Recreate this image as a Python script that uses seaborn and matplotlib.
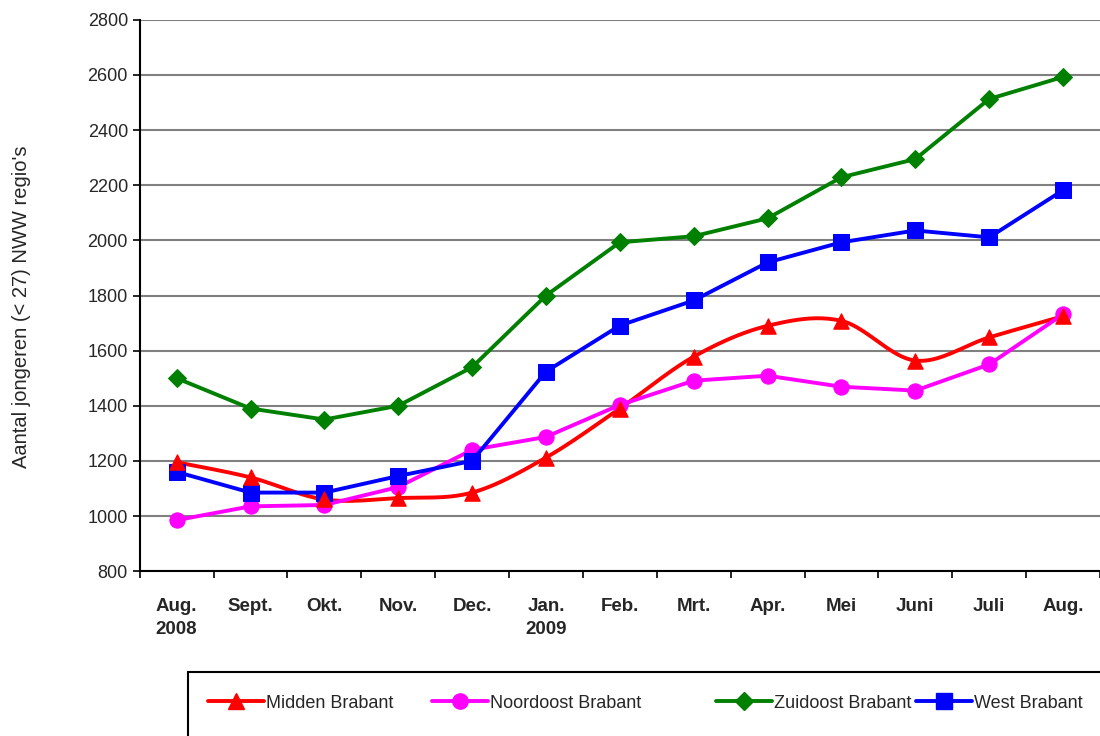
import numpy as np
import pandas as pd
import matplotlib
matplotlib.use("Agg")
import matplotlib.pyplot as plt
from matplotlib.lines import Line2D
from matplotlib.patches import Rectangle
import seaborn as sns

# --- Data ---
months = ["Aug.\n2008", "Sept.", "Okt.", "Nov.", "Dec.", "Jan.\n2009", "Feb.",
          "Mrt.", "Apr.", "Mei", "Juni", "Juli", "Aug."]
midden = [1195, 1140, 1060, 1065, 1085, 1212, 1390, 1578, 1690, 1708, 1564, 1648, 1725]
noordoost = [985, 1035, 1040, 1105, 1240, 1287, 1403, 1491, 1509, 1469, 1455, 1550, 1732]
zuidoost = [1500, 1390, 1350, 1400, 1540, 1800, 1993, 2015, 2080, 2229, 2295, 2513, 2593]
west = [1160, 1085, 1085, 1145, 1200, 1524, 1691, 1782, 1920, 1993, 2036, 2011, 2182]

series_names = ["Midden Brabant", "Noordoost Brabant", "Zuidoost Brabant", "West Brabant"]
colors = ["#ff0000", "#ff00ff", "#008000", "#0000ff"]
markers = ["^", "o", "D", "s"]
msizes = [11, 11, 9, 11]
legend_x = [208, 432, 716, 916]  # pixel position of each legend entry


def smooth_curve(x, y, n=24):
    """Excel-style smoothed line (Catmull-Rom Bezier) through the data points."""
    x = np.asarray(x, float)
    y = np.asarray(y, float)
    px = np.concatenate([[x[0]], x, [x[-1]]])
    py = np.concatenate([[y[0]], y, [y[-1]]])
    xs, ys = [], []
    t = np.linspace(0, 1, n)
    for i in range(1, len(px) - 2):
        p0 = np.array([px[i], py[i]])
        p3 = np.array([px[i + 1], py[i + 1]])
        c1 = p0 + (np.array([px[i + 1], py[i + 1]]) - np.array([px[i - 1], py[i - 1]])) / 6
        c2 = p3 - (np.array([px[i + 2], py[i + 2]]) - np.array([px[i], py[i]])) / 6
        b = ((1 - t)[:, None] ** 3 * p0 + 3 * ((1 - t) ** 2 * t)[:, None] * c1
             + 3 * ((1 - t) * t ** 2)[:, None] * c2 + (t ** 3)[:, None] * p3)
        xs.extend(b[:, 0])
        ys.extend(b[:, 1])
    return np.array(xs), np.array(ys)


sns.set_theme(style="white")
plt.rcParams["font.family"] = ["Liberation Sans", "DejaVu Sans"]

fig = plt.figure(figsize=(11, 7.36), dpi=100)
ax = fig.add_axes([0.127, 0.224, 0.873, 0.749])

x = np.arange(len(months))
df = pd.DataFrame({"x": np.tile(x, 3),
                   "value": noordoost + zuidoost + west,
                   "regio": np.repeat(series_names[1:], len(months))})

lw = 2.8

# Midden Brabant: smoothed line
sx, sy = smooth_curve(x, midden)
ax.plot(sx, sy, color=colors[0], lw=lw, zorder=3, solid_capstyle="round")
sns.scatterplot(x=x, y=midden, marker="^", s=msizes[0] ** 2, color=colors[0],
                edgecolor=colors[0], ax=ax, zorder=4, legend=False)

for name, c, m, ms in zip(series_names[1:], colors[1:], markers[1:], msizes[1:]):
    sns.lineplot(data=df[df["regio"] == name], x="x", y="value", color=c,
                 marker=m, markersize=ms, markeredgecolor=c, lw=lw,
                 ax=ax, zorder=3, legend=False)

ax.set_xlim(-0.5, 12.5)
ax.set_ylim(800, 2800)
ax.set_yticks(range(800, 2801, 200))
ax.yaxis.grid(True, color="#808080", lw=1.5)
ax.set_axisbelow(True)

# category boundaries get tick marks, labels sit in between
ax.set_xticks(np.arange(-0.5, 12.6, 1))
ax.set_xticklabels([])
ax.set_xticks(x, minor=True)
ax.set_xticklabels(months, minor=True, fontweight="bold", fontsize=13.5)
ax.tick_params(axis="x", which="minor", length=0, pad=19)
ax.tick_params(axis="x", which="major", length=5, width=1.2, color="black", direction="out", bottom=True)
ax.tick_params(axis="y", length=5, width=1.2, color="black", direction="out", left=True, labelsize=13)
for lbl in ax.get_xticklabels(minor=True):
    lbl.set_verticalalignment("top")
    lbl.set_linespacing(1.5)

for side in ["top", "right"]:
    ax.spines[side].set_visible(False)
for side in ["left", "bottom"]:
    ax.spines[side].set_color("black")
    ax.spines[side].set_linewidth(1.5)

ax.set_xlabel("")
ax.set_ylabel("Aantal jongeren (< 27) NWW regio's", fontsize=14.5)
ax.yaxis.set_label_coords(-0.113, 0.48)

# legend box (extends beyond the bottom of the figure as in the reference)
fig.patches.append(Rectangle((188 / 1100, -0.05), 0.85, 0.05 + 64 / 736,
                             transform=fig.transFigure, fill=False,
                             edgecolor="black", lw=1.5))
for name, c, m, ms, lx in zip(series_names, colors, markers, msizes, legend_x):
    h = Line2D([0], [0], color=c, marker=m, markersize=ms, lw=lw, markeredgecolor=c)
    fig.legend([h], [name], loc="center left", bbox_to_anchor=(lx / 1100, 1 - 703 / 736),
               frameon=False, fontsize=13, handlelength=3.1, handletextpad=0.1,
               borderpad=0, borderaxespad=0)

fig.savefig("out.png", dpi=100)
